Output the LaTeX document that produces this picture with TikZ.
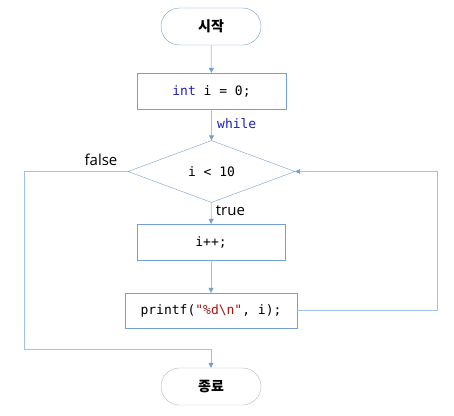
\documentclass[tikz,border=0pt]{standalone}
\usepackage{fontspec}
\setmainfont{Open Sans}
\setsansfont{Open Sans}
\setmonofont{DejaVu Sans Mono}
\newfontfamily\krfont{Noto Sans CJK KR}
\usetikzlibrary{arrows.meta}
\usetikzlibrary{shapes.geometric}

\definecolor{boxblue}{RGB}{115,160,208}
\definecolor{lineblue}{RGB}{160,195,228}
\definecolor{termgray}{RGB}{185,185,185}
\definecolor{kwblue}{RGB}{30,30,190}
\definecolor{strred}{RGB}{163,21,21}

\begin{document}
\begin{tikzpicture}[x=1pt,y=1pt,yscale=-1,xscale=1,
  terminal/.style={draw=boxblue, rounded corners=18.5pt, minimum width=100pt, minimum height=37pt, font=\krfont\bfseries\fontsize{14}{16}\selectfont},
  process/.style={draw=boxblue, minimum height=36pt, font=\ttfamily\fontsize{13}{15}\selectfont},
  decision/.style={draw=boxblue, diamond, minimum width=167pt, minimum height=62pt, inner sep=0pt, font=\ttfamily\fontsize{13}{15}\selectfont},
  flow/.style={draw=lineblue, line width=0.7pt, -{Triangle[length=5pt,width=5pt,color=boxblue]}},
  plain/.style={draw=lineblue, line width=0.7pt},
  lbl/.style={font=\sffamily\fontsize{15}{17}\selectfont}
]
\useasboundingbox (0,0) rectangle (454,415);

%Shape: Terminal [id:start]
\node [terminal] (start) at (211,26.5) {시작};
%Shape: Rectangle [id:init]
\node [process, minimum width=149pt] (init) at (211.5,91) {\textcolor{kwblue}{int} i = 0;};
%Shape: Diamond [id:cond]
\node [decision] (cond) at (211.5,171.5) {i < 10};
%Shape: Rectangle [id:inc]
\node [process, minimum width=148pt] (inc) at (211,242) {i++;};
%Shape: Rectangle [id:print]
\node [process, minimum width=172pt, minimum height=35pt] (print) at (211,310.5) {printf(\textcolor{strred}{"\%d\textbackslash n"}, i);};
%Shape: Terminal [id:stop]
\node [terminal, draw=termgray] (stop) at (211,386.5) {종료};

%Corner points
\coordinate (loopR) at (437,310.5);
\coordinate (exitL) at (24,349);

%Straight Lines
\draw [flow] (start) -- (init);
\draw [flow] (init) -- node [pos=0.45, right, xshift=2pt, font=\ttfamily\fontsize{13}{15}\selectfont, text=kwblue] {while} (cond);
\draw [flow] (cond) -- node [pos=0.4, right, xshift=1pt, lbl] {true} (inc);
\draw [flow] (inc) -- (print);
%Loop back
\draw [flow] (print.east) -- (loopR) |- (cond.east);
%Exit
\draw [flow] (cond.west) -| (exitL) -| (stop.north);
\node [lbl] (falselbl) at (101,160) {false};

\end{tikzpicture}
\end{document}
